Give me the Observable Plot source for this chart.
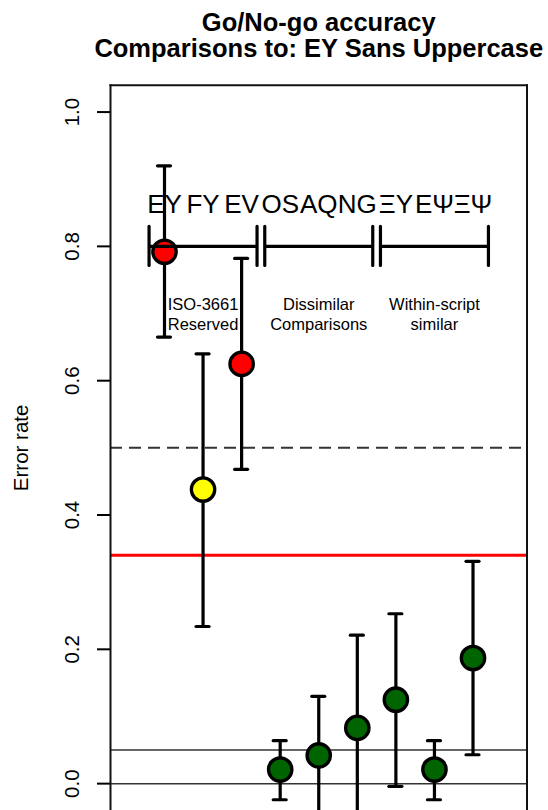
<!DOCTYPE html>
<html>
<head>
<meta charset="utf-8">
<script src="https://cdn.jsdelivr.net/npm/d3@7"></script>
<script src="https://cdn.jsdelivr.net/npm/@observablehq/plot@0.6"></script>
<style>
  html, body { margin: 0; padding: 0; background: #fff; }
  svg { display: block; }
</style>
</head>
<body>
<div id="chart"></div>
<script>
// Letter pairs compared against EY (Sans, uppercase)
const pairs = ["EY", "FY", "EV", "OS", "AQ", "NG", "ΞY", "EΨ", "ΞΨ"];
// Which comparison group each pair belongs to
const groupIndex = [0, 0, 0, 1, 1, 1, 2, 2, 2];
const groupNames = ["ISO-3661\nReserved", "Dissimilar\nComparisons", "Within-script\nsimilar"];
// Go/No-go error rate and its confidence interval
const errorRate = [0.792, 0.438, 0.625, 0.021, 0.042, 0.083, 0.125, 0.021, 0.187];
const ciLow = [0.665, 0.234, 0.468, -0.024, -0.046, -0.055, -0.004, -0.024, 0.043];
const ciHigh = [0.920, 0.640, 0.782, 0.064, 0.130, 0.221, 0.253, 0.064, 0.331];
// Outcome class of each pair
const outcome = ["confusable", "uncertain", "confusable", "distinct", "distinct", "distinct", "distinct", "distinct", "distinct"];
// Reference levels
const chanceLevel = 0.5;
const threshold = 0.34;
const floorLines = [0, 0.05];
const yTicks = [0, 0.2, 0.4, 0.6, 0.8, 1.0];

const rows = pairs.map((pair, i) => ({
  x: i + 1,
  pair,
  group: groupIndex[i],
  rate: errorRate[i],
  lo: ciLow[i],
  hi: ciHigh[i],
  outcome: outcome[i]
}));

// Bracket spanning each group of pairs, drawn along the 0.8 line
const bracketY = 0.8;
const spans = groupNames.map((label, g) => {
  const xs = rows.filter(r => r.group === g).map(r => r.x);
  return {label, start: d3.min(xs) - 0.4, end: d3.max(xs) + 0.4, center: d3.mean(xs)};
});
const spanEnds = spans.flatMap(s => [s.start, s.end]);

const fmt = d3.format(".1f");
const lw = 3.2;

const chart = Plot.plot({
  width: 548,
  height: 810,
  marginTop: 84.7,
  marginBottom: 0,
  marginLeft: 110,
  marginRight: 21.5,
  x: {domain: [-0.4, 10.4], axis: null},
  y: {domain: [-0.04, 1.04], axis: null},
  color: {domain: ["confusable", "uncertain", "distinct"], range: ["#ff0000", "#ffff00", "#006400"]},
  style: {fontFamily: "'Liberation Sans', Arial, Helvetica, sans-serif", background: "#fff", color: "#000"},
  marks: [
    Plot.ruleY(floorLines, {stroke: "#333", strokeWidth: 1.5}),
    Plot.ruleY([chanceLevel], {stroke: "#333", strokeWidth: 2, strokeDasharray: "12,7"}),
    Plot.ruleY([threshold], {stroke: "#ff0000", strokeWidth: 3}),
    // confidence intervals with caps
    Plot.ruleX(rows, {x: "x", y1: "lo", y2: "hi", stroke: "#000", strokeWidth: lw}),
    Plot.ruleY(rows, {y: "hi", x1: "x", x2: "x", insetLeft: -6.5, insetRight: -6.5, stroke: "#000", strokeWidth: lw, strokeLinecap: "round"}),
    Plot.ruleY(rows, {y: "lo", x1: "x", x2: "x", insetLeft: -6.5, insetRight: -6.5, stroke: "#000", strokeWidth: lw, strokeLinecap: "round"}),
    Plot.dot(rows, {x: "x", y: "rate", r: 11.7, fill: "outcome", stroke: "#000", strokeWidth: 3.3}),
    // group brackets
    Plot.ruleY(spans, {y: bracketY, x1: "start", x2: "end", stroke: "#000", strokeWidth: lw}),
    Plot.ruleX(spanEnds, {x: d => d, y1: bracketY, y2: bracketY, insetTop: -19.5, insetBottom: -19.5, stroke: "#000", strokeWidth: lw, strokeLinecap: "round"}),
    Plot.text(rows, {x: "x", y: 0.8625, text: "pair", fontSize: 26, lineAnchor: "middle", fill: "#000"}),
    Plot.text(spans, {x: "center", y: 0.70, text: "label", fontSize: 16.5, lineHeight: 1.22, lineAnchor: "middle", fill: "#000"}),
    // y axis
    Plot.axisY({ticks: yTicks, tickSize: 13, tickFormat: () => "", label: null, strokeWidth: 2}),
    Plot.text(yTicks, {y: d => d, text: d => fmt(d), frameAnchor: "left", dx: -38, rotate: -90, textAnchor: "middle", lineAnchor: "middle", fontSize: 20.5, fill: "#000"}),
    Plot.text(["Error rate"], {frameAnchor: "left", dx: -89, rotate: -90, textAnchor: "middle", lineAnchor: "middle", fontSize: 20.5, fill: "#000"}),
    // titles
    Plot.text(["Go/No-go accuracy"], {frameAnchor: "top", dy: -62, lineAnchor: "middle", fontSize: 25.5, fontWeight: "bold", fill: "#000"}),
    Plot.text(["Comparisons to: EY Sans Uppercase"], {frameAnchor: "top", dy: -36.5, lineAnchor: "middle", fontSize: 25.5, fontWeight: "bold", fill: "#000"}),
    // plot box (bottom edge runs off the page)
    Plot.frame({anchor: "top", stroke: "#111", strokeWidth: 2}),
    Plot.frame({anchor: "left", stroke: "#111", strokeWidth: 2}),
    Plot.frame({anchor: "right", stroke: "#111", strokeWidth: 2})
  ]
});
document.getElementById("chart").appendChild(chart);
</script>
</body>
</html>
